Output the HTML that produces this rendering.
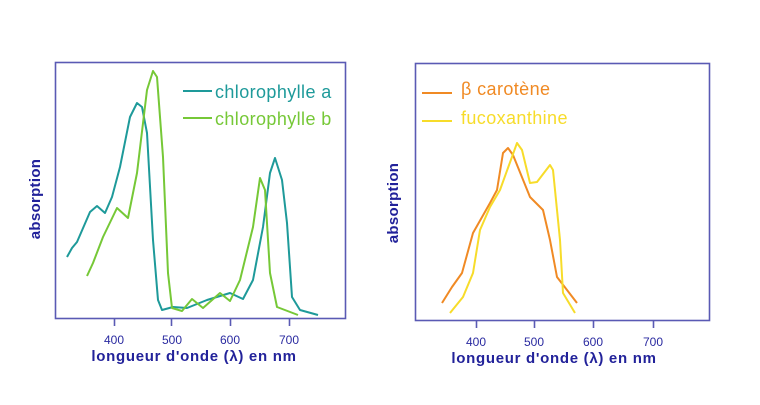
<!DOCTYPE html>
<html><head><meta charset="utf-8"><style>
html,body{margin:0;padding:0;background:#fff;}
svg{display:block;}
text{font-family:"Liberation Sans",sans-serif;}
</style></head><body>
<svg width="760" height="405" viewBox="0 0 760 405" xmlns="http://www.w3.org/2000/svg">
<g fill="none" stroke="#5a5ab4" stroke-width="1.6">
<rect x="55.5" y="62.5" width="290" height="256"/>
<rect x="415.5" y="63.5" width="294" height="257"/>
<path d="M114.5 318v8M171.5 318v8M230.5 318v8M289.5 318v8"/>
<path d="M476.5 320v8M534.5 320v8M593.5 320v8M653.5 320v8"/>
</g>
<g fill="#2a2aa0" font-size="12" text-anchor="middle">
<text x="114" y="344">400</text><text x="172" y="344">500</text><text x="230" y="344">600</text><text x="289" y="344">700</text>
<text x="476" y="346">400</text><text x="534" y="346">500</text><text x="593" y="346">600</text><text x="653" y="346">700</text>
</g>
<g fill="#22229a" font-size="15" font-weight="bold" letter-spacing="0.7">
<text x="194" y="361" text-anchor="middle">longueur d'onde (λ) en nm</text>
<text x="554" y="363" text-anchor="middle">longueur d'onde (λ) en nm</text>
<text transform="translate(40,199) rotate(-90)" text-anchor="middle" letter-spacing="0.3">absorption</text>
<text transform="translate(398,203) rotate(-90)" text-anchor="middle" letter-spacing="0.3">absorption</text>
</g>
<g fill="none" stroke-width="2" stroke-linejoin="round">
<path stroke="#1e9a9a" d="M67 257L72 248L77 242L90 212L97 206L105 213L112 197L120 167L130 117L137 103L142 107L147 133L153 240L158 300L162 310L173 307L187 308L207 300L230 293L243 299L253 280L263 227L270 173L275 158L282 180L287 223L292 297L300 310L318 315"/>
<path stroke="#76c837" d="M87 276L93 263L103 237L117 208L128 218L137 173L147 90L153 71L157 77L163 157L168 273L172 308L182 311L192 299L203 308L220 293L230 301L240 280L253 227L260 178L265 190L270 273L277 307L298 315"/>
<path stroke="#f08a24" d="M442 303L452 287L462 273L473 233L490 203L497 190L503 153L508 148L513 155L530 197L543 210L550 240L557 277L577 303"/>
<path stroke="#f7dc2a" d="M450 313L463 297L473 273L480 230L490 207L500 190L517 143L522 150L530 183L537 182L550 165L553 170L560 240L563 293L575 313"/>
<path stroke="#1e9a9a" d="M183 91H212"/>
<path stroke="#76c837" d="M183 118H212"/>
<path stroke="#f08a24" d="M422 93H452"/>
<path stroke="#f7dc2a" d="M422 121H452"/>
</g>
<g font-size="18" letter-spacing="0.4">
<text x="215" y="98" fill="#1e9a9a">chlorophylle a</text>
<text x="215" y="125" fill="#76c837">chlorophylle b</text>
<text x="461" y="95" fill="#f08a24">β carotène</text>
<text x="461" y="124" fill="#f7dc2a">fucoxanthine</text>
</g>
</svg>
</body></html>
